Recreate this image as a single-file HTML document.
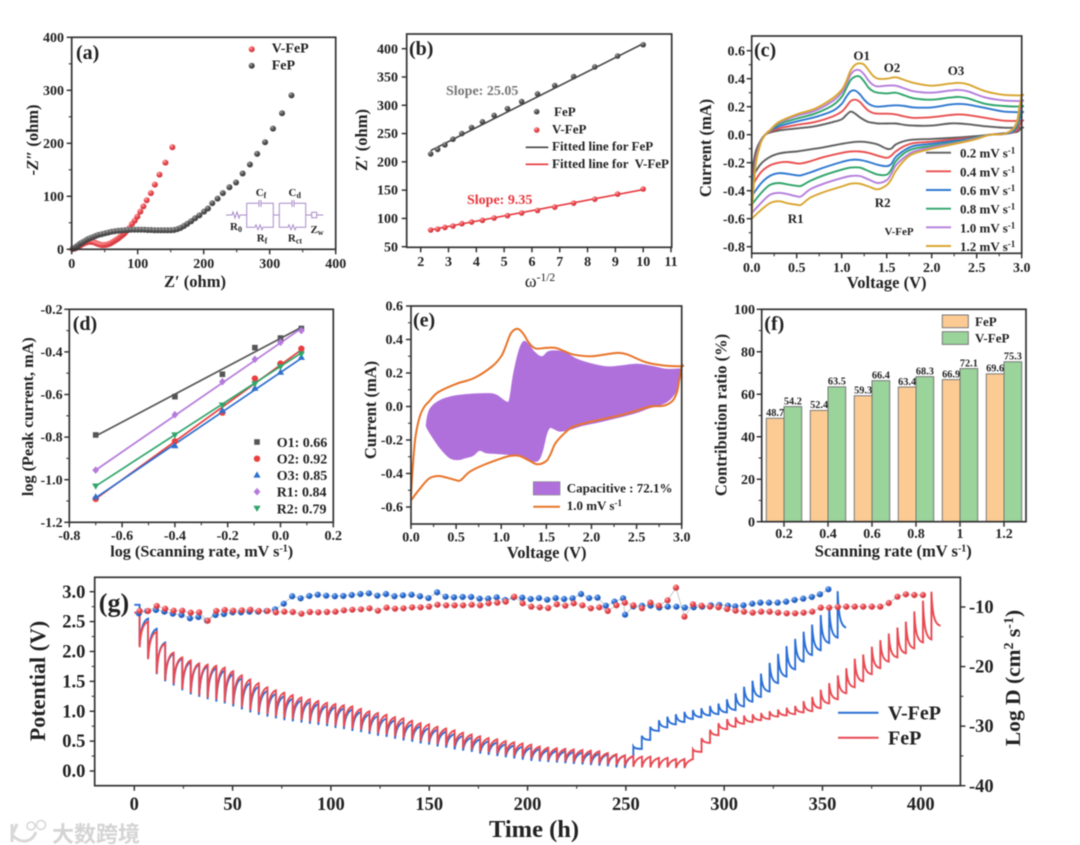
<!DOCTYPE html>
<html lang="en">
<head>
<meta charset="utf-8">
<title>V-FeP and FeP electrochemical characterization</title>
<style>
html,body{margin:0;padding:0;background:#fff;width:1080px;height:845px;overflow:hidden}
svg{display:block;filter:blur(.5px)}
text{font-family:"Liberation Serif","Noto Serif CJK SC",serif;font-weight:bold;fill:#222}
.f14{font-size:14px}.f13{font-size:13px}.f16{font-size:16.5px}.lab{font-size:20px}.tiny{font-size:11px}
.frame{fill:none;stroke:#333;stroke-width:1.7}
.circ{fill:none;stroke:#a98bc9;stroke-width:1}
</style>
</head>
<body>
<svg id="figure" xmlns="http://www.w3.org/2000/svg" width="1080" height="845" viewBox="0 0 1080 845">
<defs>
<radialGradient id="ballRed" cx="35%" cy="30%" r="75%"><stop offset="0" stop-color="#ffb0b0"/><stop offset=".45" stop-color="#ea4a50"/><stop offset="1" stop-color="#c9333a"/></radialGradient>
<radialGradient id="ballGray" cx="35%" cy="30%" r="75%"><stop offset="0" stop-color="#aaa"/><stop offset=".45" stop-color="#555"/><stop offset="1" stop-color="#3a3a3a"/></radialGradient>
<radialGradient id="ballBlue" cx="35%" cy="30%" r="75%"><stop offset="0" stop-color="#9cc0f5"/><stop offset=".45" stop-color="#2b6fd6"/><stop offset="1" stop-color="#1f55aa"/></radialGradient>
</defs>
<rect x="0" y="0" width="1080" height="845" fill="#fff"/>

<!-- PANEL A -->
<g>
<g id="a-marks"></g>
<rect class="frame" x="71.7" y="37.3" width="264" height="212"/>
<g id="a-axes"></g>
<text class="lab" x="76" y="59">(a)</text>
<text class="f14" x="271.7" y="52.7">V-FeP</text>
<text class="f14" x="271.7" y="69.7">FeP</text>
<text class="f16" x="195" y="287" text-anchor="middle">Z′ (ohm)</text>
<text class="f16" transform="translate(38,140) rotate(-90)" text-anchor="middle">-<tspan font-style="italic">Z″</tspan> (ohm)</text>
<g>
<path class="circ" d="M226 215H232l1-3 2 6 2-6 2 6 1-3H246.7M246.7 203.3H259M261 203.3H273.3V227.3H263l-1 2.5-2-5-2 5-2-5-1 2.5H246.7V203.3M259 200V207M261 200V207M273.3 215H279.3M279.3 203.3H292M294 203.3H305.7V227.3H296l-1 2.5-2-5-2 5-2-5-1 2.5H279.3V203.3M292 200V207M294 200V207M305.7 215H311.7M311.7 212.3H316.7V217.7H311.7ZM316.7 215H323.3"/>
<text class="tiny" x="261" y="196" text-anchor="middle">C<tspan dy="2" font-size="8">f</tspan></text>
<text class="tiny" x="294.7" y="196" text-anchor="middle">C<tspan dy="2" font-size="8">d</tspan></text>
<text class="tiny" x="236" y="230" text-anchor="middle">R<tspan dy="2" font-size="8">0</tspan></text>
<text class="tiny" x="262" y="241.7" text-anchor="middle">R<tspan dy="2" font-size="8">f</tspan></text>
<text class="tiny" x="295" y="241.7" text-anchor="middle">R<tspan dy="2" font-size="8">ct</tspan></text>
<text class="tiny" x="317" y="233" text-anchor="middle">Z<tspan dy="2" font-size="8">w</tspan></text>
</g>
</g>

<!-- PANEL B -->
<g>
<g id="b-marks"></g>
<rect class="frame" x="406.7" y="34" width="265" height="213.3"/>
<g id="b-axes"></g>
<text class="lab" x="409" y="55">(b)</text>
<text class="f14" x="446" y="95" style="fill:#777">Slope: 25.05</text>
<text class="f14" x="467" y="204" style="fill:#e8363c">Slope: 9.35</text>
<text class="f13" x="554" y="116">FeP</text>
<text class="f13" x="552" y="133.3">V-FeP</text>
<line x1="525.7" x2="548.3" y1="147.3" y2="147.3" stroke="#444" stroke-width="1.6"/>
<line x1="525.7" x2="548.3" y1="164.3" y2="164.3" stroke="#e8363c" stroke-width="1.6"/>
<text class="f13" x="552" y="150.7">Fitted line for FeP</text>
<text class="f13" x="552" y="168" xml:space="preserve">Fitted line for  V-FeP</text>
<text x="540" y="287" text-anchor="middle" style="font-size:18px;font-weight:normal">ω<tspan dy="-6" font-size="11.5">-1/2</tspan></text>
<text class="f16" transform="translate(367,140) rotate(-90)" text-anchor="middle">Z' (ohm)</text>
</g>

<!-- PANEL C -->
<g>
<g id="c-marks"></g>
<rect class="frame" x="751.7" y="36" width="270" height="217.3"/>
<g id="c-axes"></g>
<text class="lab" x="754" y="56.7">(c)</text>
<text class="f13" x="861.7" y="60" text-anchor="middle">O1</text>
<text class="f13" x="892" y="72" text-anchor="middle">O2</text>
<text class="f13" x="956" y="75" text-anchor="middle">O3</text>
<text class="f13" x="795.7" y="223" text-anchor="middle">R1</text>
<text class="f13" x="882.7" y="207" text-anchor="middle">R2</text>
<text class="tiny" x="899" y="235" text-anchor="middle">V-FeP</text>
<text class="f13" x="960" y="157.7">0.2 mV s<tspan dy="-4" font-size="9">-1</tspan></text>
<text class="f13" x="960" y="176.3">0.4 mV s<tspan dy="-4" font-size="9">-1</tspan></text>
<text class="f13" x="960" y="195">0.6 mV s<tspan dy="-4" font-size="9">-1</tspan></text>
<text class="f13" x="960" y="213.7">0.8 mV s<tspan dy="-4" font-size="9">-1</tspan></text>
<text class="f13" x="960" y="232.3">1.0 mV s<tspan dy="-4" font-size="9">-1</tspan></text>
<text class="f13" x="960" y="251">1.2 mV s<tspan dy="-4" font-size="9">-1</tspan></text>
<text class="f16" x="886.7" y="288" text-anchor="middle">Voltage (V)</text>
<text class="f16" transform="translate(711,148) rotate(-90)" text-anchor="middle">Current (mA)</text>
</g>

<!-- PANEL D -->
<g>
<g id="d-marks"></g>
<rect class="frame" x="69.3" y="309.3" width="264" height="213"/>
<g id="d-axes"></g>
<text class="lab" x="72.7" y="330">(d)</text>
<text class="f14" x="276.7" y="447">O1: 0.66</text>
<text class="f14" x="276.7" y="463.7">O2: 0.92</text>
<text class="f14" x="276.7" y="480">O3: 0.85</text>
<text class="f14" x="276.7" y="496.7">R1: 0.84</text>
<text class="f14" x="276.7" y="513.3">R2: 0.79</text>
<text x="201.7" y="556.7" text-anchor="middle" style="font-size:16.2px">log (Scanning rate, mV s<tspan dy="-5" font-size="10">-1</tspan><tspan dy="5">)</tspan></text>
<text x="0" y="0" transform="translate(33,416.7) rotate(-90)" text-anchor="middle" style="font-size:16.2px">log (Peak current, mA)</text>
</g>

<!-- PANEL E -->
<g>
<g id="e-marks"></g>
<rect class="frame" x="411" y="306" width="270.7" height="218"/>
<g id="e-axes"></g>
<text class="lab" x="413" y="326.7">(e)</text>
<rect x="533.3" y="481.7" width="26.7" height="13.3" fill="#b070dc" stroke="#888" stroke-width=".7"/>
<text class="f13" x="566.7" y="492.3">Capacitive : 72.1%</text>
<line x1="533.3" x2="560" y1="506.7" y2="506.7" stroke="#e8742a" stroke-width="2"/>
<text class="f13" x="566.7" y="510">1.0 mV s<tspan dy="-4" font-size="9">-1</tspan></text>
<text class="f16" x="546.7" y="558" text-anchor="middle">Voltage (V)</text>
<text class="f16" transform="translate(376,410) rotate(-90)" text-anchor="middle">Current (mA)</text>
</g>

<!-- PANEL F -->
<g>
<g id="f-marks"></g>
<rect class="frame" x="761.7" y="309.3" width="264.3" height="212.4"/>
<g id="f-axes"></g>
<text class="lab" x="764.3" y="330">(f)</text>
<rect x="942.3" y="315" width="26" height="12.7" fill="#fccb93" stroke="#777"/>
<rect x="942.3" y="331.7" width="26" height="12.7" fill="#9ad49b" stroke="#777"/>
<text class="f13" x="975" y="326">FeP</text>
<text class="f13" x="975" y="342.7">V-FeP</text>
<text class="f16" x="893.3" y="556.7" text-anchor="middle">Scanning rate (mV s<tspan dy="-5" font-size="10">-1</tspan><tspan dy="5">)</tspan></text>
<text class="f16" transform="translate(726.7,415) rotate(-90)" text-anchor="middle">Contribution ratio (%)</text>
</g>

<!-- PANEL G -->
<g>
<g id="g-marks"></g>
<rect class="frame" x="94.7" y="577.3" width="865.7" height="208.4"/>
<g id="g-axes"></g>
<text x="98.8" y="611.7" style="font-size:26px">(g)</text>
<line x1="838" x2="878.5" y1="712.7" y2="712.7" stroke="#2b6fd6" stroke-width="2"/>
<line x1="838" x2="878.5" y1="737.7" y2="737.7" stroke="#e84a52" stroke-width="2"/>
<text x="888" y="719.3" style="font-size:20px">V-FeP</text>
<text x="888" y="744.3" style="font-size:20px">FeP</text>
<text x="534" y="837" text-anchor="middle" style="font-size:24.5px">Time (h)</text>
<text transform="translate(45,681) rotate(-90)" text-anchor="middle" style="font-size:22px">Potential (V)</text>
<text transform="translate(1020,678) rotate(-90)" text-anchor="middle" style="font-size:21.5px">Log D (cm<tspan dy="-7" font-size="14">2</tspan><tspan dy="7"> s</tspan><tspan dy="-7" font-size="14">-1</tspan><tspan dy="7">)</tspan></text>
</g>

<!-- WATERMARK -->
<g>
<path d="M12 824V842M12 835C22 845 32 842 36 832M17 824L13 833" fill="none" stroke="#d8d8d8" stroke-width="3"/>
<circle cx="31" cy="826" r="4" fill="none" stroke="#d8d8d8" stroke-width="1.6"/>
<circle cx="41" cy="825" r="4.5" fill="none" stroke="#d8d8d8" stroke-width="1.6"/>
<text x="52" y="842" style="font-family:'Liberation Sans','Noto Sans CJK SC',sans-serif;font-size:22px;fill:#d4d4d4;font-weight:bold">大数跨境</text>
</g>
</svg>

<script>
/* ---------- panel a data ---------- */
const aTicks = [0,100,200,300,400];
const aTickLabels = ['0','100','200','300','400'];
const aMinor = [50,150,250,350];
const vfepRe = [1,3,5,7.5,10,12.5,15,17.5,20,22.5,25,27.5,30,32.5,35,37.5,40,42.5,45,47.5,50,52.5,55,57.5,60,62.5,65,67.5,70,72.5,75,77.5,80,83.5,87,91.4,95.5,99.5,104,108.6,113.6,120,126,133,142,152.5];
const vfepIm = [0.5,1,1.5,3,5,7,9,10.5,12,13,14,14.2,14,13.5,12.5,11.2,10,9,8,7.8,8,8.5,9.5,10.5,12,14,16,18,20,22.5,25,27.5,30,35,40,48,54,61.6,71,81,92.5,106,122,141,163.5,192.5];
const fepRe = [2,4,6,8,10,13,16,20,24,28,32,36,40,45,50,55,60,65,70,75,80,85,90,95,100,105,110,115,120,125,130,135,140,145,150,155,160,165,170,175,181,187,193.5,200.5,206.5,213,221,229,239,249,259,270,281,293,305,318.7,333];
const fepIm = [1,2,4,6,8,11,13,16,19,21,23,25,27,28.5,30,31.5,33,34,35,35.5,36,36.5,37,37,37,37,37,36.5,36.5,36,36,36,36,36,36,36.5,38,40.5,44,48,53,58.5,64,71,77,87,95.6,106,117,126,143,160,180,202,227.7,256.6,290.5];

/* ---------- panel b data ---------- */
const bXTicks = [2,3,4,5,6,7,8,9,10,11];
const bXLabels = ['2','3','4','5','6','7','8','9','10','11'];
const bYTicks = [50,100,150,200,250,300,350,400];
const bYLabels = ['50','100','150','200','250','300','350','400'];
const bOmega = [2.36,2.61,2.87,3.16,3.48,3.83,4.22,4.64,5.12,5.63,6.2,6.82,7.5,8.26,9.08,10];
const bFeP = [214,222,230,240,250,260.7,270.7,282,294,306.5,320,334.8,350.7,367.8,387,407];
const bVFeP = [79.5,81,84,86.5,90.6,93.6,96.6,100.7,104.8,109.5,114,120,127,134,143,152];
const bFitOmega = [2.36,10];
const bFitFeP = [220,409];
const bFitVFeP = [80,151];

/* ---------- panel c data ---------- */
const cVTicks = [0,0.5,1,1.5,2,2.5,3];
const cVLabels = ['0.0','0.5','1.0','1.5','2.0','2.5','3.0'];
const cVMinor = [0.25,0.75,1.25,1.75,2.25,2.75];
const cITicks = [0.6,0.4,0.2,0,-0.2,-0.4,-0.6,-0.8];
const cILabels = ['0.6','0.4','0.2','0.0','-0.2','-0.4','-0.6','-0.8'];
const cIMinor = [0.5,0.3,0.1,-0.1,-0.3,-0.5,-0.7];
const upperV = [0,.02,.05,.1,.15,.2,.3,.5,.7,.9,1,1.05,1.1,1.15,1.2,1.25,1.3,1.35,1.4,1.5,1.6,1.7,1.8,2,2.2,2.3,2.4,2.6,2.8,3];
const lowerV = [3,2.97,2.95,2.9,2.8,2.65,2.5,2.3,2,1.8,1.7,1.6,1.55,1.5,1.4,1.3,1.2,1.1,1,.8,.65,.55,.5,.4,.3,.2,.1,0];
const upper02 = [-.31,-.2,-.11,-.04,0,.015,.03,.045,.06,.09,.11,.14,.165,.15,.125,.105,.09,.085,.08,.08,.08,.07,.065,.065,.08,.08,.075,.06,.05,.05];
const lower02 = [.05,.03,.02,.015,.01,0,-.01,-.02,-.03,-.035,-.045,-.07,-.1,-.1,-.07,-.055,-.05,-.055,-.065,-.09,-.105,-.115,-.12,-.125,-.135,-.16,-.21,-.31];
const upper04 = [-.36,-.26,-.14,-.045,0,.02,.045,.07,.09,.13,.165,.2,.24,.25,.235,.2,.17,.155,.15,.15,.145,.13,.12,.125,.14,.145,.14,.12,.1,.1];
const lower04 = [.1,.06,.035,.015,.005,0,-.02,-.03,-.05,-.06,-.08,-.12,-.15,-.165,-.15,-.13,-.12,-.12,-.13,-.16,-.19,-.205,-.205,-.195,-.2,-.22,-.27,-.37];
const upper06 = [-.42,-.3,-.16,-.05,0,.025,.06,.095,.125,.17,.22,.27,.31,.315,.29,.25,.22,.205,.2,.205,.21,.205,.195,.195,.215,.22,.215,.19,.165,.16];
const lower06 = [.16,.1,.06,.02,.005,0,-.02,-.04,-.065,-.08,-.11,-.16,-.21,-.225,-.215,-.195,-.18,-.18,-.195,-.235,-.27,-.29,-.29,-.28,-.275,-.295,-.35,-.44];
const upper08 = [-.47,-.33,-.17,-.055,0,.03,.075,.115,.15,.21,.27,.33,.39,.415,.415,.38,.335,.31,.3,.295,.3,.28,.26,.25,.265,.27,.26,.22,.205,.2];
const lower08 = [.2,.12,.07,.03,.005,0,-.02,-.05,-.08,-.1,-.13,-.19,-.25,-.285,-.285,-.26,-.235,-.235,-.25,-.29,-.33,-.365,-.365,-.355,-.345,-.36,-.42,-.5];
const upper10 = [-.53,-.36,-.18,-.055,0,.03,.085,.135,.17,.24,.3,.36,.43,.46,.46,.43,.385,.355,.345,.35,.35,.33,.31,.3,.315,.32,.31,.265,.245,.24];
const lower10 = [.24,.15,.09,.035,.005,0,-.025,-.055,-.09,-.12,-.16,-.22,-.28,-.325,-.345,-.32,-.295,-.295,-.31,-.35,-.39,-.44,-.44,-.425,-.415,-.43,-.49,-.56];
const upper12 = [-.58,-.38,-.19,-.06,0,.03,.09,.145,.185,.26,.32,.38,.46,.5,.51,.5,.46,.42,.4,.4,.41,.39,.37,.35,.365,.37,.36,.31,.285,.28];
const lower12 = [.28,.18,.1,.04,.005,0,-.03,-.06,-.1,-.135,-.18,-.26,-.32,-.36,-.39,-.37,-.35,-.35,-.37,-.41,-.45,-.5,-.5,-.49,-.475,-.49,-.54,-.6];

/* ---------- panel d data ---------- */
const dXTicks = [-0.8,-0.6,-0.4,-0.2,0,0.2];
const dXLabels = ['-0.8','-0.6','-0.4','-0.2','0.0','0.2'];
const dXMinor = [-0.7,-0.5,-0.3,-0.1,0.1];
const dYTicks = [-0.2,-0.4,-0.6,-0.8,-1,-1.2];
const dYLabels = ['-0.2','-0.4','-0.6','-0.8','-1.0','-1.2'];
const dYMinor = [-0.3,-0.5,-0.7,-0.9,-1.1];
const logRate = [-0.7,-0.4,-0.22,-0.097,0,0.079];
const logO1 = [-.79,-.61,-.505,-.38,-.335,-.29];
const logO2 = [-1.09,-.82,-.685,-.525,-.455,-.385];
const logO3 = [-1.08,-.84,-.675,-.57,-.495,-.425];
const logR1 = [-.955,-.695,-.54,-.435,-.355,-.3];
const logR2 = [-1.03,-.79,-.65,-.55,-.47,-.41];
const fitRate = [-0.7,0.079];
const fitO1 = [-.795,-.285];
const fitO2 = [-1.09,-.39];
const fitO3 = [-1.085,-.43];
const fitR1 = [-.955,-.29];
const fitR2 = [-1.03,-.405];

/* ---------- panel e data ---------- */
const eITicks = [0.6,0.4,0.2,0,-0.2,-0.4,-0.6];
const eILabels = ['0.6','0.4','0.2','0.0','-0.2','-0.4','-0.6'];
const eIMinor = [0.5,0.3,0.1,-0.1,-0.3,-0.5];
const capacitiveV = [.166,.2,.29,.43,.62,.86,.95,1.06,1.09,1.13,1.19,1.245,1.3,1.375,1.45,1.52,1.615,1.71,1.84,1.985,2.17,2.32,2.5,2.65,2.835,2.99,2.99,2.96,2.89,2.8,2.65,2.465,2.13,1.91,1.76,1.65,1.58,1.54,1.505,1.46,1.41,1.32,1.17,.985,.84,.76,.69,.6,.525,.43,.32,.23,.174];
const capacitiveI = [-.1,-.02,.03,.06,.075,.08,.07,.03,.05,.19,.33,.39,.375,.325,.3,.33,.335,.325,.285,.26,.24,.245,.255,.245,.225,.225,.19,.11,.05,.015,-.01,-.045,-.09,-.115,-.14,-.15,-.135,-.13,-.17,-.27,-.325,-.325,-.295,-.285,-.28,-.265,-.295,-.31,-.32,-.31,-.25,-.18,-.13];

/* ---------- panel f data ---------- */
const fCategories = ['0.2','0.4','0.6','0.8','1','1.2'];
const fFeP = [48.7,52.4,59.3,63.4,66.9,69.6];
const fVFeP = [54.2,63.5,66.4,68.3,72.1,75.3];
const fYTicks = [0,20,40,60,80,100];
const fYLabels = ['0','20','40','60','80','100'];
const fYMinor = [10,30,50,70,90];

/* ---------- panel g data ---------- */
const gXTicks = [0,50,100,150,200,250,300,350,400];
const gXLabels = ['0','50','100','150','200','250','300','350','400'];
const gXMinor = [25,75,125,175,225,275,325,375];
const gVTicks = [3,2.5,2,1.5,1,0.5,0];
const gVLabels = ['3.0','2.5','2.0','1.5','1.0','0.5','0.0'];
const gVMinor = [2.75,2.25,1.75,1.25,0.75,0.25];
const gDTicks = [-10,-20,-30,-40];
const gDLabels = ['-10','-20','-30','-40'];
const gDMinor = [-15,-25,-35];
const pulseHours = [2.7,7.0,11.4,15.7,20.0,24.4,28.7,33.0,37.3,41.7,46.0,50.3,54.7,59.0,63.3,67.7,72.0,76.3,80.6,85.0,89.3,93.6,98.0,102.3,106.6,110.9,115.3,119.6,123.9,128.3,132.6,136.9,141.3,145.6,149.9,154.2,158.6,162.9,167.2,171.6,175.9,180.2,184.6,188.9,193.2,197.5,201.9,206.2,210.5,214.9,219.2,223.5,227.9,232.2,236.5,240.8,245.2,249.5,253.8,258.2,262.5,266.8,271.2,275.5,279.8];
const fepLow = [2.07,1.87,1.63,1.52,1.46,1.37,1.31,1.27,1.23,1.20,1.16,1.12,1.07,1.02,0.98,0.95,0.92,0.89,0.87,0.85,0.83,0.81,0.79,0.76,0.74,0.71,0.69,0.66,0.63,0.61,0.58,0.55,0.53,0.50,0.48,0.45,0.43,0.41,0.38,0.36,0.33,0.31,0.29,0.27,0.25,0.23,0.21,0.19,0.18,0.17,0.16,0.15,0.14,0.13,0.12,0.11,0.10,0.09,0.07,0.06,0.06,0.05,0.06,0.05,0.05];
const fepHigh = [2.50,2.33,2.13,1.98,1.90,1.85,1.80,1.78,1.76,1.73,1.67,1.60,1.53,1.47,1.40,1.35,1.31,1.27,1.23,1.20,1.17,1.14,1.12,1.10,1.08,1.04,1.00,0.97,0.94,0.90,0.88,0.84,0.80,0.78,0.74,0.71,0.68,0.64,0.61,0.58,0.55,0.53,0.50,0.48,0.46,0.44,0.41,0.39,0.38,0.37,0.36,0.35,0.34,0.33,0.30,0.28,0.26,0.25,0.24,0.24,0.22,0.22,0.20,0.20,0.20];
const vfepLow = [2.10,1.88,1.62,1.50,1.43,1.35,1.28,1.24,1.20,1.16,1.13,1.08,1.03,0.98,0.94,0.91,0.88,0.85,0.83,0.81,0.79,0.77,0.75,0.72,0.70,0.67,0.65,0.62,0.59,0.57,0.54,0.51,0.49,0.46,0.44,0.41,0.39,0.36,0.34,0.32,0.29,0.27,0.25,0.23,0.21,0.19,0.17,0.16,0.15,0.14,0.13,0.12,0.11,0.10,0.09,0.08,0.06,0.05];
const vfepHigh = [2.55,2.38,2.15,1.96,1.88,1.82,1.78,1.75,1.72,1.68,1.62,1.55,1.47,1.41,1.34,1.29,1.25,1.21,1.18,1.15,1.12,1.09,1.07,1.05,1.03,0.99,0.95,0.92,0.88,0.85,0.82,0.78,0.75,0.72,0.69,0.66,0.62,0.59,0.56,0.53,0.50,0.48,0.45,0.43,0.41,0.39,0.37,0.35,0.34,0.33,0.32,0.31,0.30,0.29,0.28,0.27,0.26,0.25];
const fepChargeHours = [284.1,288.5,292.8,297.1,301.5,305.8,310.1,314.5,318.8,323.1,327.4,331.8,336.1,340.4,344.8,349.1,353.4,357.8,362.1,366.4,370.7,375.1,379.4,383.7,388.1,392.4,396.7,401.1,405.4];
const fepSpike = [.36,.55,.69,.80,.87,.90,.93,.95,.97,1.0,1.03,1.06,1.09,1.17,1.24,1.36,1.47,1.6,1.72,1.88,1.95,2.08,2.19,2.3,2.4,2.5,2.67,2.85,3.0];
const fepSettle = [.32,.47,.60,.70,.74,.79,.82,.85,.87,.91,.93,.95,.98,1.0,1.05,1.13,1.2,1.3,1.4,1.5,1.62,1.72,1.83,1.9,1.97,2.05,2.15,2.2,2.43];
const vfepChargeHours = [253.8,258.1,262.4,266.8,271.1,275.4,279.8,284.1,288.4,292.8,297.1,301.4,305.8,310.1,314.4,318.7,323.1,327.4,331.7,336.1,340.4,344.7,349.1,353.4,357.7];
const vfepSpike = [.41,.59,.74,.85,.91,.95,.99,1.02,1.05,1.09,1.13,1.2,1.3,1.41,1.51,1.63,1.81,1.96,2.09,2.21,2.33,2.45,2.61,2.75,3.01];
const vfepSettle = [.37,.52,.67,.73,.78,.82,.87,.9,.93,.95,.98,1.02,1.08,1.16,1.24,1.33,1.47,1.58,1.7,1.83,1.94,2.02,2.14,2.23,2.4];
const fepDHours = [2.7,7.0,11.4,15.7,20.0,24.4,28.7,33.0,37.3,41.7,46.0,50.3,54.7,59.0,63.3,67.7,72.0,76.3,80.6,85.0,89.3,93.6,98.0,102.3,106.6,110.9,115.3,119.6,123.9,128.3,132.6,136.9,141.3,145.6,149.9,154.2,158.6,162.9,167.2,171.6,175.9,180.2,184.6,188.9,193.2,197.5,201.9,206.2,210.5,214.9,219.2,223.5,227.9,232.2,236.5,240.8,245.2,249.5,253.8,258.2,262.5,266.8,271.2,275.5,279.8,284.1,288.5,292.8,297.1,301.5,305.8,310.1,314.5,318.8,323.1,327.4,331.8,336.1,340.4,344.8,349.1,353.4,357.8,362.1,366.4,370.7,375.1,379.4,383.7,388.1,392.4,396.7,401.1];
const fepLogD = [-10.67,-10.67,-9.83,-10.28,-10.62,-10.62,-10.95,-10.9,-12.3,-10.67,-10.5,-10.62,-10.56,-10.45,-10.67,-10.67,-10.9,-10.78,-10.84,-11.12,-10.84,-10.9,-10.84,-10.78,-10.56,-10.45,-10.39,-10.22,-10.62,-10.11,-10.28,-10.22,-10.06,-10.06,-9.94,-9.61,-9.72,-9.72,-9.72,-9.61,-9.72,-9.38,-9.27,-9.1,-8.27,-9.38,-9.94,-10.06,-10.17,-9.55,-9.78,-9.38,-9.72,-10.22,-10.06,-10.67,-9.72,-9.27,-9.72,-10.22,-9.27,-9.78,-8.88,-6.75,-11.62,-9.55,-9.78,-9.94,-10.06,-10.34,-10.62,-10.78,-10.95,-10.78,-10.78,-10.95,-11.06,-11.06,-10.95,-10.78,-10.11,-10.11,-10,-9.94,-9.94,-9.94,-9.94,-9.94,-9.33,-8.27,-7.87,-7.99,-7.99];
const vfepDHours = [2.3,6.6,11,15.3,19.6,24,28.3,32.6,37,41.3,45.6,50,54.3,58.6,63,67.3,71.6,76,80.3,84.6,89,93.3,97.6,102,106.3,110.6,115,119.3,123.6,128,132.3,136.6,141,145.3,149.6,154,158.3,162.6,167,171.3,175.6,180,184.3,188.6,193,197.3,201.6,205.8,210,214.3,218.6,222.9,227.2,231.3,235.6,239.8,244.2,248.6,249.6,253.8,258.2,262.6,267,271.3,275.7,280,284.5,288.8,293.2,297.5,301.9,305.6,309.8,314.3,318.4,322.8,327.2,331.5,335.8,340.2,344.6,348.7,353];
const vfepLogD = [-11.06,-10.67,-10.5,-10.78,-11.12,-11.34,-11.9,-11.68,-12.3,-11.34,-11.18,-10.9,-10.9,-10.78,-10.78,-10.67,-10.39,-9.44,-8.2,-8.55,-8.15,-7.93,-8.1,-8.2,-8.15,-7.99,-7.82,-7.7,-8.1,-7.82,-8.2,-8.04,-7.93,-8.2,-8.5,-7.54,-8.27,-8.38,-8.32,-8.32,-8.6,-8.6,-8.38,-8.82,-8.38,-8.43,-8.66,-8.5,-8.77,-8.5,-8.66,-8.55,-7.82,-8.5,-8.43,-9.78,-9.1,-8.55,-11.29,-9.9,-9.78,-9.78,-10.1,-9.95,-9.95,-10.1,-10.05,-9.95,-9.72,-9.66,-9.78,-9.89,-9.72,-9.44,-9.27,-9.27,-9.27,-9.1,-8.82,-8.6,-8.32,-7.87,-7.03];

/* ---------- helpers ---------- */
const NS = 'http://www.w3.org/2000/svg';
function mk(parent, tag, attrs, txt) {
  const el = document.createElementNS(NS, tag);
  for (const k in attrs) el.setAttribute(k, attrs[k]);
  if (txt != null) el.textContent = txt;
  parent.appendChild(el);
  return el;
}
function scale(d0, d1, r0, r1) { return v => r0 + (v - d0) * (r1 - r0) / (d1 - d0); }
function byId(id) { return document.getElementById(id); }

function drawAxis(g, orient, pos, sc, majors, labels, minors, fs, labelPos) {
  const tick = (v, len, w) => {
    const p = sc(v);
    if (orient === 'bottom') return mk(g, 'line', {x1:p, x2:p, y1:pos, y2:pos+len, stroke:'#333', 'stroke-width':w});
    if (orient === 'left') return mk(g, 'line', {x1:pos-len, x2:pos, y1:p, y2:p, stroke:'#333', 'stroke-width':w});
    return mk(g, 'line', {x1:pos, x2:pos+len, y1:p, y2:p, stroke:'#333', 'stroke-width':w});
  };
  majors.forEach((v, i) => {
    const t = tick(v, 5, 1.5);
    
    
    const p = sc(v);
    let lab;
    if (orient === 'bottom') lab = mk(g, 'text', {x:p, y:labelPos, 'text-anchor':'middle', style:'font-size:'+fs+'px'}, labels[i]);
    else if (orient === 'left') lab = mk(g, 'text', {x:labelPos, y:p+fs*0.33, 'text-anchor':'end', style:'font-size:'+fs+'px'}, labels[i]);
    else lab = mk(g, 'text', {x:labelPos, y:p+fs*0.33, 'text-anchor':'start', style:'font-size:'+fs+'px'}, labels[i]);
    
    
  });
  (minors || []).forEach(v => {
    const t = tick(v, 3, 1.1);
    
    
  });
}
function smooth(pts, closed) {
  const n = pts.length;
  const at = i => closed ? pts[(i + n) % n] : pts[Math.max(0, Math.min(n - 1, i))];
  let d = 'M' + pts[0][0].toFixed(2) + ' ' + pts[0][1].toFixed(2);
  const last = closed ? n : n - 1;
  for (let i = 0; i < last; i++) {
    const p0 = at(i-1), p1 = at(i), p2 = at(i+1), p3 = at(i+2);
    const c1x = p1[0] + (p2[0]-p0[0])/6, c1y = p1[1] + (p2[1]-p0[1])/6;
    const c2x = p2[0] - (p3[0]-p1[0])/6, c2y = p2[1] - (p3[1]-p1[1])/6;
    d += ' C' + c1x.toFixed(2)+' '+c1y.toFixed(2)+' '+c2x.toFixed(2)+' '+c2y.toFixed(2)+' '+p2[0].toFixed(2)+' '+p2[1].toFixed(2);
  }
  return closed ? d + 'Z' : d;
}

/* ---------- panel a ---------- */
(function(){
  const ax = scale(0,400,71.7,335.7), ay = scale(0,400,249.3,37.3);
  const g = byId('a-marks');
  vfepRe.forEach((re,i) => {
    const c = mk(g,'circle',{cx:ax(re),cy:ay(vfepIm[i]),r:3,fill:'url(#ballRed)'});
    
    
  });
  fepRe.forEach((re,i) => {
    const c = mk(g,'circle',{cx:ax(re),cy:ay(fepIm[i]),r:3,fill:'url(#ballGray)'});
    
    
  });
  const lv = mk(g,'circle',{cx:251.7,cy:49.3,r:3,fill:'url(#ballRed)'});
  
  
  const lf = mk(g,'circle',{cx:251.7,cy:65.7,r:3,fill:'url(#ballGray)'});
  
  
  const axes = byId('a-axes');
  drawAxis(axes,'bottom',249.3,ax,aTicks,aTickLabels,aMinor,14,268);
  drawAxis(axes,'left',71.7,ay,aTicks,aTickLabels,aMinor,14,64);
})();

/* ---------- panel b ---------- */
(function(){
  const bx = scale(2,11,420.7,671), by = scale(50,400,246.7,48.7);
  const g = byId('b-marks');
  const fitF = mk(g,'line',{x1:bx(bFitOmega[0]),y1:by(bFitFeP[0]),x2:bx(bFitOmega[1]),y2:by(bFitFeP[1]),stroke:'#444','stroke-width':1.6});
  
  
  const fitV = mk(g,'line',{x1:bx(bFitOmega[0]),y1:by(bFitVFeP[0]),x2:bx(bFitOmega[1]),y2:by(bFitVFeP[1]),stroke:'#e8363c','stroke-width':1.6});
  
  
  bOmega.forEach((w,i) => {
    const a = mk(g,'circle',{cx:bx(w),cy:by(bFeP[i]),r:2.8,fill:'url(#ballGray)'});
    
    
    const b = mk(g,'circle',{cx:bx(w),cy:by(bVFeP[i]),r:2.8,fill:'url(#ballRed)'});
    
    
  });
  const l1 = mk(g,'circle',{cx:536.7,cy:111.7,r:2.8,fill:'url(#ballGray)'});
  
  
  const l2 = mk(g,'circle',{cx:536.7,cy:130,r:2.8,fill:'url(#ballRed)'});
  
  
  const axes = byId('b-axes');
  drawAxis(axes,'bottom',247.3,bx,bXTicks,bXLabels,[],14,266);
  drawAxis(axes,'left',406.7,by,bYTicks,bYLabels,[],14,398);
})();

/* ---------- panel c ---------- */
(function(){
  const cx = scale(0,3,751.7,1021.7), cy = scale(0.6,-0.8,50.7,246.7);
  const g = byId('c-marks');
  const rates = [
    [upper02,lower02,'#5f5f5f','cv-curve-0-2',152.7],
    [upper04,lower04,'#e8504f','cv-curve-0-4',171.3],
    [upper06,lower06,'#2f78d0','cv-curve-0-6',190],
    [upper08,lower08,'#2fa56b','cv-curve-0-8',208.7],
    [upper10,lower10,'#b57edc','cv-curve-1-0',227.3],
    [upper12,lower12,'#d9a52e','cv-curve-1-2',246]
  ];
  rates.forEach(r => {
    const pts = upperV.map((v,i)=>[cx(v),cy(r[0][i])]).concat(lowerV.map((v,i)=>[cx(v),cy(r[1][i])]));
    const p = mk(g,'path',{d:smooth(pts,false),fill:'none',stroke:r[2],'stroke-width':1.9});
    
    
    const l = mk(g,'line',{x1:926,x2:951,y1:r[4],y2:r[4],stroke:r[2],'stroke-width':1.9});
    
    
  });
  const axes = byId('c-axes');
  drawAxis(axes,'bottom',253.3,cx,cVTicks,cVLabels,cVMinor,14,272);
  drawAxis(axes,'left',751.7,cy,cITicks,cILabels,cIMinor,14,745);
})();

/* ---------- panel d ---------- */
function symbol(g, kind, x, y, color) {
  const s = 3.2;
  if (kind === 'square') return mk(g,'rect',{x:x-s+.4,y:y-s+.4,width:2*s-.8,height:2*s-.8,fill:color});
  if (kind === 'circle') return mk(g,'circle',{cx:x,cy:y,r:s,fill:color});
  if (kind === 'up') return mk(g,'polygon',{points:[x,y-s-.4,x+s+.4,y+s-.6,x-s-.4,y+s-.6].join(' '),fill:color});
  if (kind === 'down') return mk(g,'polygon',{points:[x,y+s+.4,x+s+.4,y-s+.6,x-s-.4,y-s+.6].join(' '),fill:color});
  return mk(g,'polygon',{points:[x,y-s-.6,x+s+.2,y,x,y+s+.6,x-s-.2,y].join(' '),fill:color});
}
(function(){
  const dx = scale(-0.8,0.2,69.3,333.3), dy = scale(-0.2,-1.2,309.3,522.3);
  const g = byId('d-marks');
  const series = [
    [logO1,fitO1,'#555','square','o1',442],
    [logO2,fitO2,'#e8403f','circle','o2',458.7],
    [logO3,fitO3,'#2f6fd0','up','o3',475],
    [logR1,fitR1,'#b57bdc','diamond','r1',491.7],
    [logR2,fitR2,'#2fa56b','down','r2',508.3]
  ];
  series.forEach(s => {
    const l = mk(g,'line',{x1:dx(fitRate[0]),y1:dy(s[1][0]),x2:dx(fitRate[1]),y2:dy(s[1][1]),stroke:s[2],'stroke-width':1.7});
    
    
  });
  series.forEach(s => {
    logRate.forEach((r,i) => {
      const m = symbol(g,s[3],dx(r),dy(s[0][i]),s[2]);
      
      
    });
    const lm = symbol(g,s[3],257,s[5],s[2]);
    
    
  });
  const axes = byId('d-axes');
  drawAxis(axes,'bottom',522.3,dx,dXTicks,dXLabels,dXMinor,14,540);
  drawAxis(axes,'left',69.3,dy,dYTicks,dYLabels,dYMinor,14,62.7);
})();

/* ---------- panel e ---------- */
(function(){
  const ex = scale(0,3,411,681.7), ey = scale(0.6,-0.6,306,507);
  const g = byId('e-marks');
  const capPts = capacitiveV.map((v,i)=>[ex(v),ey(capacitiveI[i])]);
  const cap = mk(g,'path',{d:smooth(capPts,true),fill:'#b070dc'});
  
  
  const pts = upperV.map((v,i)=>[ex(v),ey(upper10[i])]).concat(lowerV.map((v,i)=>[ex(v),ey(lower10[i])]));
  const cv = mk(g,'path',{d:smooth(pts,false),fill:'none',stroke:'#e8742a','stroke-width':2});
  
  
  const axes = byId('e-axes');
  drawAxis(axes,'bottom',524,ex,cVTicks,cVLabels,cVMinor,14,541.7);
  drawAxis(axes,'left',411,ey,eITicks,eILabels,eIMinor,14,403);
})();

/* ---------- panel f ---------- */
(function(){
  const fy = scale(0,100,521.7,309.3);
  const catX = scale(0,5,784,1004);
  const band = 17.7;
  const g = byId('f-marks');
  fCategories.forEach((c,i) => {
    const cx = catX(i);
    const a = mk(g,'rect',{x:cx-band,y:fy(fFeP[i]),width:band,height:521.7-fy(fFeP[i]),fill:'#fccb93',stroke:'#777','stroke-width':1});
    
    
    const b = mk(g,'rect',{x:cx,y:fy(fVFeP[i]),width:band,height:521.7-fy(fVFeP[i]),fill:'#9ad49b',stroke:'#777','stroke-width':1});
    
    
    const ta = mk(g,'text',{x:cx-band/2,y:fy(fFeP[i])-2.2,'text-anchor':'middle',style:'font-size:10.3px'},fFeP[i].toFixed(1));
    
    
    const tb = mk(g,'text',{x:cx+band/2,y:fy(fVFeP[i])-2.2,'text-anchor':'middle',style:'font-size:10.3px'},fVFeP[i].toFixed(1));
    
    
  });
  const axes = byId('f-axes');
  drawAxis(axes,'bottom',521.7,v=>catX(v),[0,1,2,3,4,5],fCategories,[],14,538);
  drawAxis(axes,'left',761.7,fy,fYTicks,fYLabels,fYMinor,14,755);
})();

/* ---------- panel g ---------- */
(function(){
  const gx = scale(0,400,134.3,920.8), gy = scale(3,0,591.7,771), gd = scale(-10,-40,607,785.7);
  const g = byId('g-marks');
  function gittPath(start, times, lows, highs, chargeT, spikes, settles, endT) {
    let d = 'M' + gx(0) + ' ' + gy(start) + ' L' + gx(times[0]) + ' ' + gy(start);
    lows.forEach((low,k) => {
      const t = times[k];
      const next = k + 1 < lows.length ? times[k+1] : chargeT[0];
      d += ' L' + gx(t) + ' ' + gy(low);
      d += ' Q' + gx(t+0.7) + ' ' + gy(highs[k]-0.04) + ' ' + gx(next) + ' ' + gy(highs[k]);
    });
    spikes.forEach((sp,k) => {
      const t = chargeT[k];
      const next = k + 1 < spikes.length ? chargeT[k+1] : endT;
      const se = settles[k];
      d += ' L' + gx(t) + ' ' + gy(sp);
      d += ' C' + gx(t+0.5) + ' ' + gy(se+(sp-se)*0.3) + ' ' + gx(t+1.6) + ' ' + gy(se+(sp-se)*0.04) + ' ' + gx(next) + ' ' + gy(se);
    });
    return d;
  }
  const linkV = mk(g,'polyline',{points:vfepDHours.map((t,i)=>gx(t)+','+gd(vfepLogD[i])).join(' '),fill:'none',stroke:'#b5b5b5','stroke-width':.7});
  
  
  const linkF = mk(g,'polyline',{points:fepDHours.map((t,i)=>gx(t)+','+gd(fepLogD[i])).join(' '),fill:'none',stroke:'#b5b5b5','stroke-width':.7});
  
  
  const pv = mk(g,'path',{d:gittPath(2.78,pulseHours.slice(0,vfepLow.length),vfepLow,vfepHigh,vfepChargeHours,vfepSpike,vfepSettle,362),fill:'none',stroke:'#2b6fd6','stroke-width':1.9});
  
  
  const pf = mk(g,'path',{d:gittPath(2.65,pulseHours,fepLow,fepHigh,fepChargeHours,fepSpike,fepSettle,410),fill:'none',stroke:'#e84a52','stroke-width':1.9});
  
  
  vfepDHours.forEach((t,i) => {
    const c = mk(g,'circle',{cx:gx(t),cy:gd(vfepLogD[i]),r:3.1,fill:'url(#ballBlue)'});
    
    
  });
  fepDHours.forEach((t,i) => {
    const c = mk(g,'circle',{cx:gx(t),cy:gd(fepLogD[i]),r:3.1,fill:'url(#ballRed)'});
    
    
  });
  const axes = byId('g-axes');
  drawAxis(axes,'bottom',785.7,gx,gXTicks,gXLabels,gXMinor,18.5,810);
  drawAxis(axes,'left',94.7,gy,gVTicks,gVLabels,gVMinor,18.5,85.4);
  drawAxis(axes,'right',960.4,gd,gDTicks,gDLabels,gDMinor,18.5,969);
})();
</script>
</body>
</html>
